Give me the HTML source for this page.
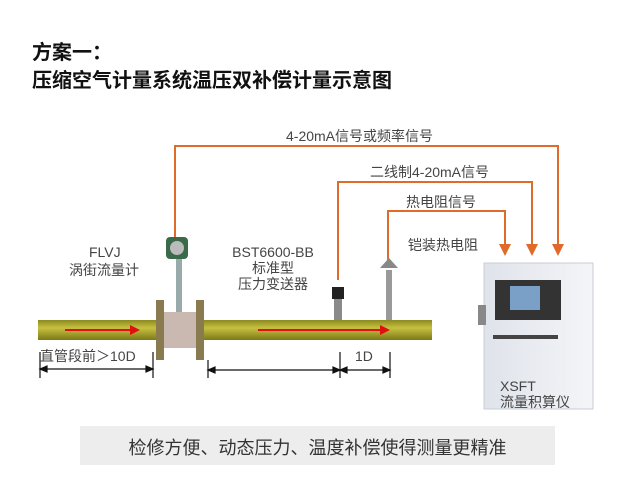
<!DOCTYPE html><html><head><meta charset="utf-8"><style>
body{margin:0;width:640px;height:498px;background:#fff;position:relative;overflow:hidden;font-family:"Liberation Sans","Noto Sans CJK SC",sans-serif}
.t{position:absolute;color:#444;font-size:14px;white-space:nowrap;line-height:16px}
</style></head><body>
<div style="position:absolute;left:32px;top:39px;font-size:20px;font-weight:bold;line-height:28px;color:#111">方案一：<br>压缩空气计量系统温压双补偿计量示意图</div>
<svg width="640" height="498" style="position:absolute;left:0;top:0">
<defs>
<linearGradient id="p" x1="0" y1="0" x2="0" y2="1"><stop offset="0" stop-color="#8a8a20"/><stop offset=".4" stop-color="#c8c040"/><stop offset="1" stop-color="#7a7a18"/></linearGradient>
<linearGradient id="c" x1="0" y1="0" x2="1" y2="0"><stop offset="0" stop-color="#dfe3ea"/><stop offset="1" stop-color="#f4f5f8"/></linearGradient></defs>
<g fill="none" stroke="#e06a2a" stroke-width="2">
<path d="M175,243 V146 H558 V246"/>
<path d="M338,280 V182 H532 V246"/>
<path d="M388,262 V211 H505 V246"/>
</g>
<g fill="#e06a2a">
<path d="M552,244 H564 L558,256z"/><path d="M526,244 H538 L532,256z"/><path d="M499,244 H511 L505,256z"/>
</g>
<rect x="38" y="320" width="394" height="20" fill="url(#p)"/>
<line x1="65" y1="330" x2="130" y2="330" stroke="#e01010" stroke-width="2"/><path d="M130,325 L140,330 L130,335z" fill="#e01010"/>
<line x1="258" y1="330" x2="380" y2="330" stroke="#e01010" stroke-width="2"/><path d="M380,325 L390,330 L380,335z" fill="#e01010"/>
<rect x="162" y="312" width="42" height="36" fill="#c9b9b0"/>
<rect x="156" y="300" width="8" height="60" fill="#8a7a50"/>
<rect x="196" y="300" width="8" height="60" fill="#8a7a50"/>
<rect x="176" y="250" width="6" height="62" fill="#9aa"/>
<rect x="166" y="237" width="22" height="22" rx="4" fill="#3a6a4a"/><circle cx="177" cy="248" r="7" fill="#bbb"/>
<rect x="332" y="287" width="12" height="12" fill="#222"/><rect x="334" y="299" width="8" height="21" fill="#8a8a8a"/>
<rect x="386" y="270" width="6" height="50" fill="#999"/><path d="M380,268 L398,268 L389,258z" fill="#888"/>
<g stroke="#111" stroke-width="1.2" fill="#111">
<line x1="40" y1="352" x2="40" y2="378"/><line x1="153" y1="352" x2="153" y2="378"/>
<line x1="44" y1="369" x2="149" y2="369"/><path d="M40,369 l7,-3 v6z M153,369 l-7,-3 v6z"/>
<line x1="208" y1="360" x2="208" y2="378"/><line x1="340" y1="352" x2="340" y2="378"/><line x1="390" y1="352" x2="390" y2="378"/>
<line x1="212" y1="370" x2="336" y2="370"/><path d="M208,370 l7,-3 v6z M340,370 l-7,-3 v6z"/>
<line x1="344" y1="370" x2="386" y2="370"/><path d="M340,370 l7,-3 v6z M390,370 l-7,-3 v6z"/>
</g>
<rect x="484" y="263" width="109" height="146" fill="url(#c)" stroke="#c8ccd4"/>
<rect x="495" y="280" width="66" height="40" fill="#333"/><rect x="510" y="286" width="30" height="24" fill="#7aa0c8"/>
<rect x="478" y="305" width="8" height="20" fill="#888"/>
<rect x="493" y="335" width="65" height="4" fill="#444"/>
<rect x="80" y="426" width="475" height="39" fill="#ededed"/>
</svg>
<div class="t" style="left:286px;top:128px">4-20mA信号或频率信号</div>
<div class="t" style="left:370px;top:164px">二线制4-20mA信号</div>
<div class="t" style="left:406px;top:194px">热电阻信号</div>
<div class="t" style="left:408px;top:237px">铠装热电阻</div>
<div class="t" style="left:89px;top:244px">FLVJ</div>
<div class="t" style="left:69px;top:262px">涡街流量计</div>
<div class="t" style="left:225px;top:244px;text-align:center;width:96px">BST6600-BB<br>标准型<br>压力变送器</div>
<div class="t" style="left:40px;top:348px">直管段前＞10D</div>
<div class="t" style="left:355px;top:348px">1D</div>
<div class="t" style="left:500px;top:378px">XSFT<br>流量积算仪</div>
<div style="position:absolute;left:80px;top:434px;width:475px;text-align:center;font-size:18px;color:#333">检修方便、动态压力、温度补偿使得测量更精准</div>
</body></html>
